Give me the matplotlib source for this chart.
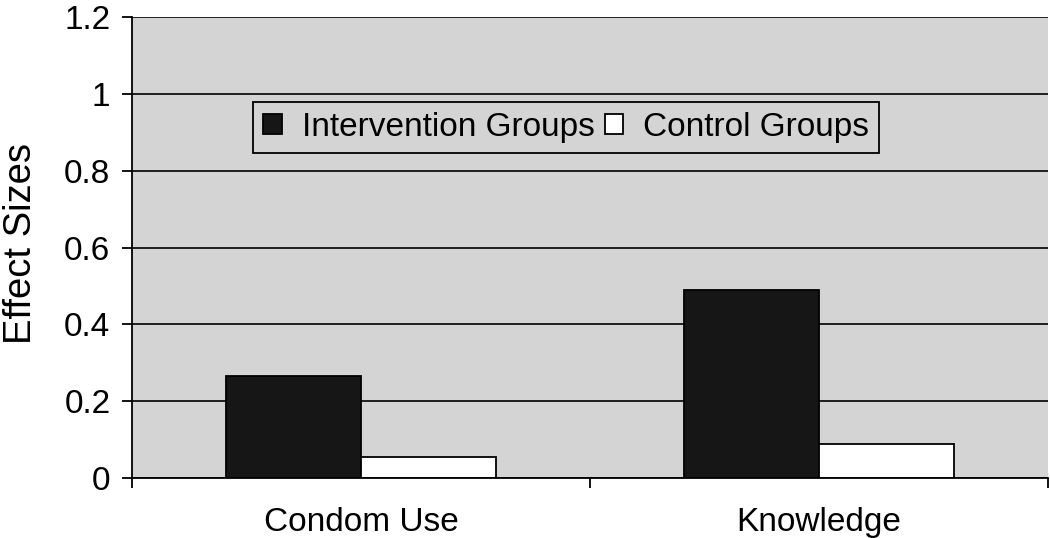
import matplotlib
matplotlib.use("Agg")
import matplotlib.pyplot as plt
import numpy as np
from matplotlib.ticker import FixedLocator

plt.rcParams['font.family'] = ['Liberation Sans', 'DejaVu Sans']

categories = ["Condom Use", "Knowledge"]
intervention = [0.265, 0.49]
control = [0.055, 0.088]
series_names = ["Intervention Groups", "Control Groups"]
yticks = [0, 0.2, 0.4, 0.6, 0.8, 1.0, 1.2]
ytick_labels = ["0", "0.2", "0.4", "0.6", "0.8", "1", "1.2"]

fig = plt.figure(figsize=(10.5, 5.38), dpi=100)
ax = fig.add_axes([132/1050, 1 - 478/538, 916/1050, 461/538])
ax.set_facecolor('#d4d4d4')

x = np.arange(len(categories))
w = 0.295
ax.bar(x - w/2, intervention, w, color='#161616', edgecolor='black', linewidth=1.3,
       label=series_names[0], zorder=3)
ax.bar(x + w/2, control, w, color='white', edgecolor='black', linewidth=1.3,
       label=series_names[1], zorder=3)

ax.set_xlim(-0.5, len(categories) - 0.5)
ax.set_ylim(0, 1.2)
ax.set_yticks(yticks)
ax.set_yticklabels(ytick_labels)
ax.set_xticks(x)
ax.set_xticklabels(categories)
ax.xaxis.set_minor_locator(FixedLocator(np.arange(-0.5, len(categories), 1.0)))
ax.tick_params(axis='x', which='major', length=0, labelsize=24, pad=21)
ax.tick_params(axis='x', which='minor', length=7.5, width=1.3, color='black')
ax.tick_params(axis='y', length=7.5, width=1.3, labelsize=24, pad=8)

ax.yaxis.grid(True, color='black', linewidth=1.2, zorder=1)
ax.set_axisbelow(True)
for s in ['top', 'right']:
    ax.spines[s].set_visible(False)
for s in ['left', 'bottom']:
    ax.spines[s].set_linewidth(1.3)
    ax.spines[s].set_color('black')
    ax.spines[s].set_zorder(4)

fig.text(21/1050, 1 - 243/538, "Effect Sizes", fontsize=27.5, rotation=90,
         ha='center', va='center')

leg = ax.legend(loc='center', bbox_to_anchor=(0.474, 0.76), ncol=2, fontsize=24,
                frameon=True, fancybox=False, edgecolor='black', facecolor='#d4d4d4',
                framealpha=1, handlelength=0.55, handleheight=0.55, handletextpad=0.6,
                columnspacing=0.3, borderpad=0.3, borderaxespad=0)
leg.get_frame().set_linewidth(1.3)

fig.savefig("out.png", dpi=100)
